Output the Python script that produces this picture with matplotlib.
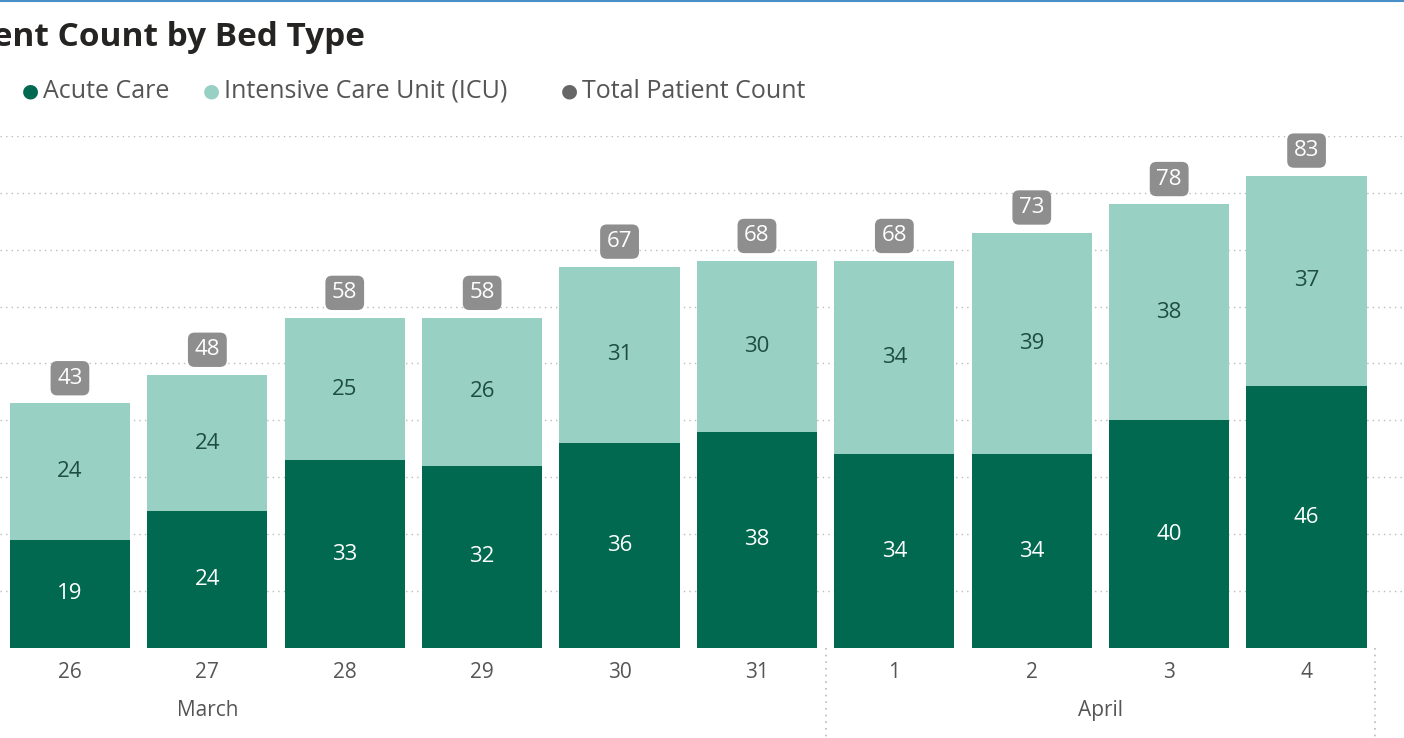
import matplotlib
matplotlib.use("Agg")
import matplotlib.pyplot as plt

days = ["26", "27", "28", "29", "30", "31", "1", "2", "3", "4"]
acute = [19, 24, 33, 32, 36, 38, 34, 34, 40, 46]
icu = [24, 24, 25, 26, 31, 30, 34, 39, 38, 37]
totals = [43, 48, 58, 58, 67, 68, 68, 73, 78, 83]
months = ["March", "April"]

plt.rcParams['font.family'] = ['Open Sans', 'DejaVu Sans']
DARK = "#00694F"
LIGHT = "#99D0C4"
GRAY = "#8E8E8E"

fig = plt.figure(figsize=(14.04, 7.38), dpi=100)
ax = fig.add_axes([0, 0.122, 1, 0.694])
x = list(range(len(days)))
ax.bar(x, acute, width=0.875, color=DARK, zorder=2)
ax.bar(x, icu, bottom=acute, width=0.875, color=LIGHT, zorder=2)
for i in x:
    ax.text(i, acute[i] / 2, str(acute[i]), ha="center", va="center", color="white", fontsize=16)
    ax.text(i, acute[i] + icu[i] / 2, str(icu[i]), ha="center", va="center", color="#1E4D42", fontsize=16)
    ax.text(i, totals[i] + 4.4, str(totals[i]), ha="center", va="center", color="white", fontsize=16,
            bbox=dict(boxstyle="round,pad=0.3,rounding_size=0.3", fc=GRAY, ec="none"),
            )
    ax.text(i, -4.3, days[i], ha="center", va="center", color="#555555", fontsize=15, clip_on=False)
ax.set_xlim(-0.509, 9.709)
ax.set_ylim(0, 90)
for v in range(10, 100, 10):
    ax.axhline(v, color="#BBBBBB", lw=1, ls=(0, (1, 3)), zorder=1)
for xv in [5.5, 9.5]:
    ax.plot([xv, xv], [0, -16], color="#BBBBBB", lw=1.2, ls=(0, (1, 3)), clip_on=False)
ax.text(1.0, -11, months[0], ha="center", va="center", color="#555555", fontsize=15, clip_on=False)
ax.text(7.5, -11, months[1], ha="center", va="center", color="#555555", fontsize=15, clip_on=False)
ax.axis("off")

fig.text(-0.052, 1 - 38 / 738, "Patient Count by Bed Type", fontsize=24, fontweight="bold",
         color="#252423", va="center", ha="left")
legend = [("Acute Care", DARK, 30), ("Intensive Care Unit (ICU)", LIGHT, 211), ("Total Patient Count", "#666666", 569)]
ly = 1 - 91 / 738
for label, col, px in legend:
    fig.text(px / 1404, ly, "●", color=col, fontsize=14, ha="center", va="center")
    fig.text((px + 13) / 1404, ly, label, color="#555555", fontsize=18, ha="left", va="center")
fig.add_artist(plt.Line2D([0, 1], [0.999, 0.999], color="#4A90C8", lw=1.5))
fig.savefig("out.png", dpi=100)
